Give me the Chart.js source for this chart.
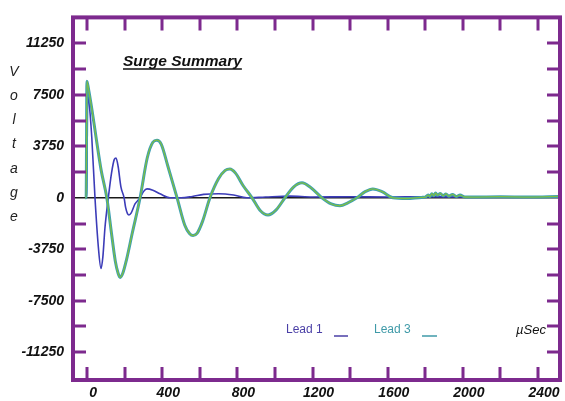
<!DOCTYPE html>
<html>
<head>
<meta charset="utf-8">
<script src="https://cdn.jsdelivr.net/npm/chart.js@4.4.0/dist/chart.umd.min.js"></script>
<style>
    html, body { margin: 0; padding: 0; background: #ffffff; }
    #wrap { width: 565px; height: 401px; }
</style>
</head>
<body>
<div id="wrap"><canvas id="surgeChart" width="565" height="401"></canvas></div>
<script>
// Surge Summary - Lead 1 / Lead 3 waveforms

// Lead 1 (blue)
const lead1Time = [-8, -2, 3, 10, 25, 42, 60, 74, 84, 95, 113, 130, 145, 154, 165, 180, 197, 205, 215, 223, 235, 255, 282, 300, 319, 350, 388, 441, 500, 560, 620, 700, 780, 850, 950, 1080, 1200, 1400, 1600, 1800, 2000, 2200, 2400, 2510];
const lead1Volts = [0, 0, 7500, 7000, 4400, 0, -3600, -5150, -4300, -2200, 0, 1800, 2800, 2900, 2300, 800, 0, -700, -1150, -1250, -1100, -450, 0, 450, 650, 550, 290, 0, 0, 100, 250, 300, 200, 0, 60, 120, 60, 80, 60, 80, 60, 80, 60, 80];

// Lead 3 (green / teal)
const lead3Time = [-10, -5, -1, 8, 25, 50, 75, 105, 130, 150, 165, 176, 190, 210, 240, 282, 320, 350, 372, 395, 430, 479, 520, 545, 564, 585, 615, 654, 700, 735, 760, 790, 830, 878, 920, 963, 1005, 1053, 1100, 1144, 1190, 1250, 1300, 1346, 1390, 1436, 1480, 1521, 1570, 1628, 1700, 1780, 1800, 1815, 1825, 1835, 1845, 1855, 1865, 1880, 1895, 1910, 1925, 1945, 1965, 1985, 2010, 2050, 2200, 2350, 2510];
const lead3Volts = [0, 0, 8500, 7900, 6500, 4200, 2000, 0, -2600, -4600, -5500, -5800, -5500, -4500, -2600, 0, 2900, 4050, 4200, 3900, 2300, 0, -2000, -2600, -2750, -2600, -1700, 0, 1400, 2000, 2100, 1800, 900, 0, -900, -1250, -900, 0, 800, 1090, 750, 0, -450, -580, -350, 0, 450, 650, 450, 0, -50, 30, 50, 200, 100, 300, 150, 350, 180, 320, 150, 280, 120, 250, 100, 200, 60, 50, 80, 50, 100];

// axis labels and tick marks
const xLabels = [0, 400, 800, 1200, 1600, 2000, 2400];
const xTickMarks = [0, 200, 400, 600, 800, 1000, 1200, 1400, 1600, 1800, 2000, 2200, 2400];
const yLabels = [11250, 7500, 3750, 0, -3750, -7500, -11250];
const yTickMarks = [11250, 9375, 7500, 5625, 3750, 1875, 0, -1875, -3750, -5625, -7500, -9375, -11250];

const frameColor = '#7d2a8e';
const labelFont = { family: 'Liberation Sans', size: 14, weight: 'bold', style: 'italic' };

function toPoints(times, volts) {
    return times.map((t, i) => ({ x: t, y: volts[i] }));
}

// frame, inward ticks and free texts
const framePlugin = {
    id: 'surgeFrame',
    afterDraw(chart) {
        const ctx = chart.ctx;
        const area = chart.chartArea;
        const xs = chart.scales.x;
        const ys = chart.scales.y;
        ctx.save();

        // tick marks
        ctx.strokeStyle = frameColor;
        ctx.lineWidth = 3;
        ctx.beginPath();
        xTickMarks.forEach(v => {
            const px = Math.round(xs.getPixelForValue(v));
            ctx.moveTo(px, area.bottom);
            ctx.lineTo(px, area.bottom - 13);
            ctx.moveTo(px, area.top);
            ctx.lineTo(px, area.top + 13);
        });
        yTickMarks.forEach(v => {
            if (v === 0) return;
            const py = Math.round(ys.getPixelForValue(v));
            ctx.moveTo(area.left, py);
            ctx.lineTo(area.left + 13, py);
            ctx.moveTo(area.right, py);
            ctx.lineTo(area.right - 13, py);
        });
        ctx.stroke();

        // frame
        ctx.lineWidth = 4;
        ctx.strokeRect(area.left, area.top, area.right - area.left, area.bottom - area.top);

        // title
        ctx.fillStyle = '#111111';
        ctx.font = 'italic bold 15.5px "Liberation Sans"';
        ctx.textBaseline = 'alphabetic';
        ctx.textAlign = 'left';
        const title = 'Surge Summary';
        ctx.fillText(title, 123, 66);
        const tw = ctx.measureText(title).width;
        ctx.strokeStyle = '#111111';
        ctx.lineWidth = 1.5;
        ctx.beginPath();
        ctx.moveTo(123, 69);
        ctx.lineTo(123 + tw, 69);
        ctx.stroke();

        // vertical axis title
        ctx.font = 'italic 14px "Liberation Sans"';
        ctx.fillStyle = '#222222';
        ctx.textAlign = 'center';
        ctx.textBaseline = 'middle';
        'Voltage'.split('').forEach((ch, i) => {
            ctx.fillText(ch, 14, 72 + i * 24.2);
        });

        // legend
        ctx.textAlign = 'left';
        ctx.font = '12px "Liberation Sans"';
        ctx.fillStyle = '#4a3fa6';
        ctx.fillText('Lead 1', 286, 330);
        ctx.fillStyle = '#3f9aa8';
        ctx.fillText('Lead 3', 374, 330);
        ctx.lineWidth = 1.5;
        ctx.strokeStyle = '#4a3fa6';
        ctx.beginPath();
        ctx.moveTo(334, 336);
        ctx.lineTo(348, 336);
        ctx.stroke();
        ctx.strokeStyle = '#3f9aa8';
        ctx.beginPath();
        ctx.moveTo(422, 336);
        ctx.lineTo(437, 336);
        ctx.stroke();

        ctx.fillStyle = '#111111';
        ctx.font = 'italic 13px "Liberation Sans"';
        ctx.fillText('\u00b5Sec', 516, 330);

        ctx.restore();
    }
};

const ctx = document.getElementById('surgeChart');

new Chart(ctx, {
    type: 'line',
    data: {
        datasets: [
            {
                label: 'Lead 1',
                data: toPoints(lead1Time, lead1Volts),
                borderColor: '#3c3cb8',
                borderWidth: 1.6,
                pointRadius: 0,
                cubicInterpolationMode: 'monotone',
                fill: false,
                order: 3
            },
            {
                label: 'Lead 3',
                data: toPoints(lead3Time, lead3Volts),
                borderColor: '#3d9fb4',
                borderWidth: 3,
                pointRadius: 0,
                cubicInterpolationMode: 'monotone',
                fill: false,
                order: 2
            },
            {
                label: 'Lead 3 core',
                data: toPoints(lead3Time, lead3Volts),
                borderColor: '#7cbd44',
                borderWidth: 1.3,
                pointRadius: 0,
                cubicInterpolationMode: 'monotone',
                fill: false,
                order: 1
            }
        ]
    },
    options: {
        responsive: false,
        animation: false,
        layout: {
            padding: { top: 16, right: 5, left: 0, bottom: 0 }
        },
        plugins: {
            legend: { display: false },
            tooltip: { enabled: false }
        },
        scales: {
            x: {
                type: 'linear',
                min: -75,
                max: 2517,
                afterFit: s => { s.height = 21; },
                afterBuildTicks: s => { s.ticks = xLabels.map(v => ({ value: v })); },
                ticks: {
                    color: '#111111',
                    font: labelFont,
                    padding: 5,
                    labelOffset: 6,
                    maxRotation: 0,
                    autoSkip: false,
                    callback: v => String(v)
                },
                grid: { display: false, drawTicks: false },
                border: { display: false }
            },
            y: {
                min: -13280,
                max: 13150,
                afterFit: s => { s.width = 73; },
                afterBuildTicks: s => { s.ticks = yLabels.map(v => ({ value: v })); },
                ticks: {
                    color: '#111111',
                    font: labelFont,
                    padding: 9,
                    autoSkip: false,
                    callback: v => String(v)
                },
                grid: {
                    drawTicks: false,
                    lineWidth: 1.5,
                    color: c => (c.tick && c.tick.value === 0 ? '#1a1a1a' : 'rgba(0,0,0,0)')
                },
                border: { display: false }
            }
        }
    },
    plugins: [framePlugin]
});
</script>
</body>
</html>
